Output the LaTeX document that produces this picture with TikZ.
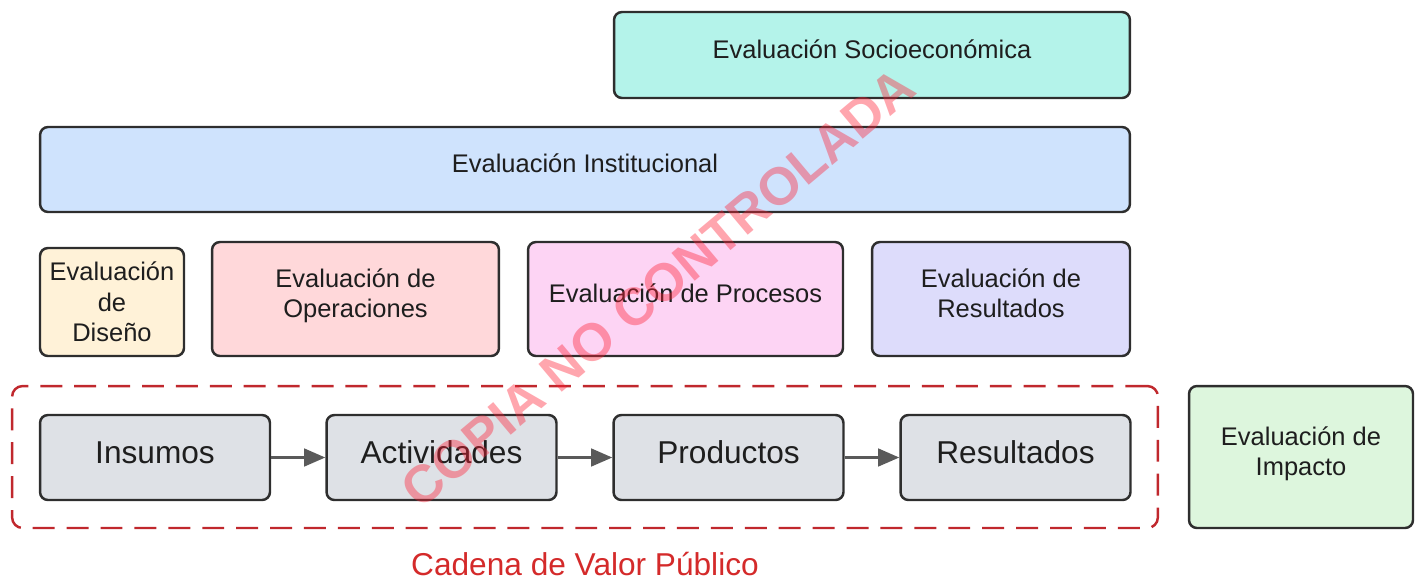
\documentclass[tikz,border=0pt]{standalone}
\usepackage{fontspec}
\setmainfont{Liberation Sans}
\usetikzlibrary{arrows.meta}
\definecolor{bordc}{HTML}{2E2E2E}
\definecolor{txtc}{HTML}{1E1E1E}
\definecolor{socc}{HTML}{B4F3EA}
\definecolor{instc}{HTML}{CFE3FD}
\definecolor{disc}{HTML}{FFF2D8}
\definecolor{opc}{HTML}{FFD8DA}
\definecolor{procc}{HTML}{FDD4F4}
\definecolor{resc}{HTML}{DDDCFB}
\definecolor{impc}{HTML}{DDF6DD}
\definecolor{grayc}{HTML}{DEE1E6}
\definecolor{redc}{HTML}{C0282D}
\definecolor{labred}{HTML}{D42A2A}
\definecolor{wmc}{HTML}{FF2035}
\definecolor{arrc}{HTML}{5A5A5A}
\tikzset{
  evbox/.style={draw=bordc, line width=1.4pt, rounded corners=4.5pt, text=txtc,
    align=center, inner sep=2pt, font=\fontsize{14.5}{17.3}\selectfont},
  chainbox/.style={evbox, fill=grayc, minimum width=4.6cm, minimum height=1.7cm,
    font=\fontsize{18}{21}\selectfont},
  flow/.style={draw=arrc, line width=1.5pt, -{Triangle[length=12pt,width=10pt]}},
  dashframe/.style={draw=redc, line width=1.4pt, dash pattern=on 12.5pt off 6.8pt,
    rounded corners=6pt, minimum width=22.92cm, minimum height=2.84cm}
}
\begin{document}
\begin{tikzpicture}[x=0.02cm,y=-0.02cm]
\useasboundingbox (0,0) rectangle (1416,582);
% top rows
\node[evbox, fill=socc, minimum width=10.32cm, minimum height=1.72cm, text depth=7pt] (soc) at (872,55) {Evaluación Socioeconómica};
\node[evbox, fill=instc, minimum width=21.8cm, minimum height=1.7cm, text depth=7pt] (inst) at (585,169.5) {Evaluación Institucional};
% middle row
\node[evbox, fill=disc, minimum width=2.88cm, minimum height=2.16cm] (dis) at (112,302) {Evaluación\\de\\Diseño};
\node[evbox, fill=opc, minimum width=5.74cm, minimum height=2.28cm] (op) at (355.5,299) {Evaluación de\\Operaciones\rule[-7pt]{0pt}{7pt}};
\node[evbox, fill=procc, minimum width=6.3cm, minimum height=2.28cm, text depth=7pt] (proc) at (685.5,299) {Evaluación de Procesos};
\node[evbox, fill=resc, minimum width=5.16cm, minimum height=2.28cm] (res) at (1001,299) {Evaluación de\\Resultados\rule[-7pt]{0pt}{7pt}};
% value chain frame
\node[dashframe] (frame) at (585,457) {};
\node[chainbox, text depth=6pt] (ins) at (155,457.5) {Insumos};
\node[chainbox, text depth=6pt] (act) at (441.5,457.5) {Actividades};
\node[chainbox, text depth=6pt] (prod) at (728.5,457.5) {Productos};
\node[chainbox, text depth=6pt] (resu) at (1015.5,457.5) {Resultados};
\draw[flow] (ins) -- (act);
\draw[flow] (act) -- (prod);
\draw[flow] (prod) -- (resu);
\node[evbox, fill=impc, minimum width=4.48cm, minimum height=2.84cm] (imp) at (1301,457) {Evaluación de\\Impacto\rule[-7pt]{0pt}{7pt}};
\node[text=labred, font=\fontsize{18}{21}\selectfont] (cadena) at (585,564) {Cadena de Valor Público};
% watermark
\node[text=wmc, opacity=0.4, rotate=40, font=\fontsize{30}{34}\selectfont\bfseries] (wm) at (658,288) {COPIA NO CONTROLADA};
\end{tikzpicture}
\end{document}
